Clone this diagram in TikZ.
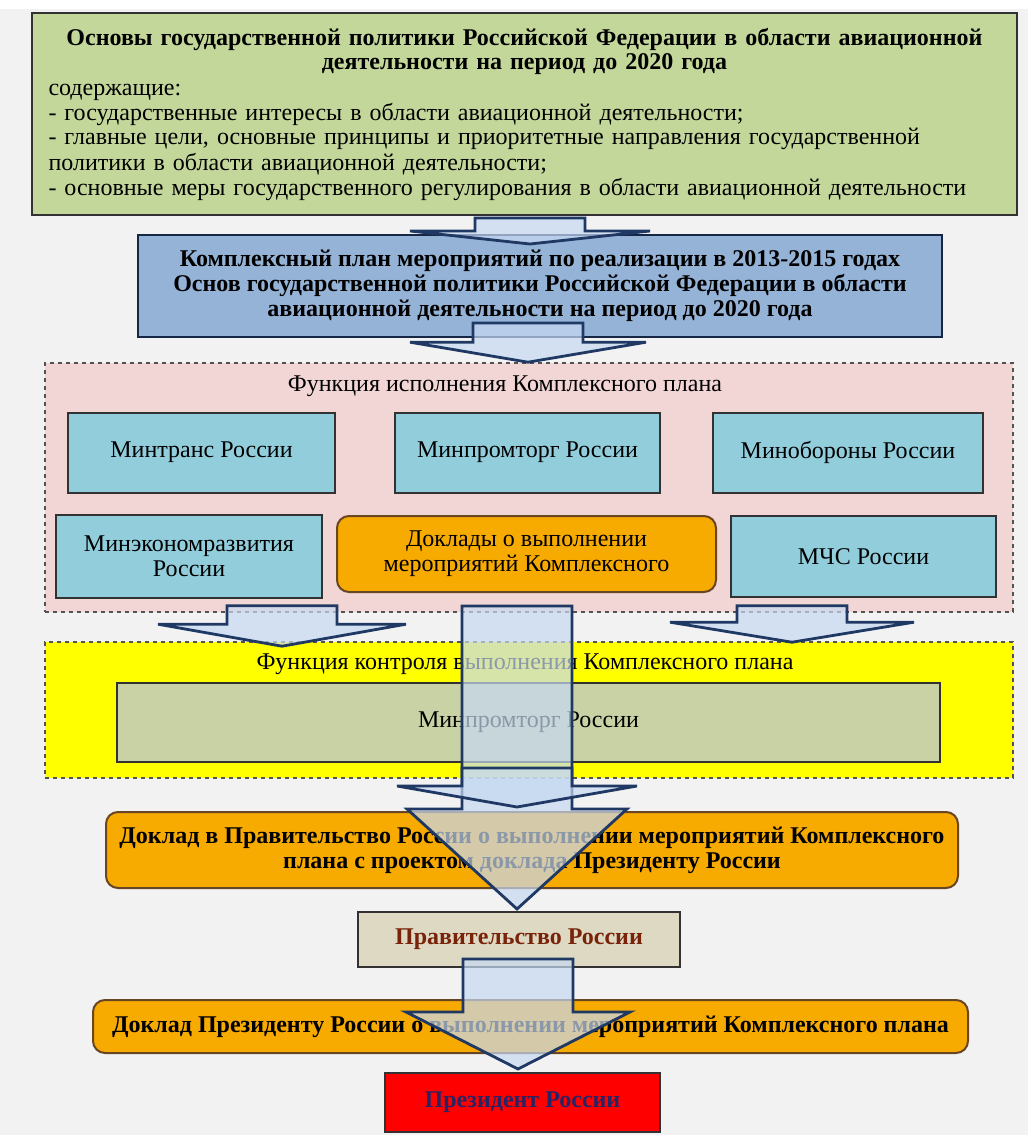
\documentclass[tikz,border=0pt]{standalone}
\usepackage{fontspec}
\setmainfont{Liberation Serif}
\usetikzlibrary{calc}

\definecolor{pagebg}{RGB}{242,242,242}
\definecolor{olivebox}{RGB}{196,215,155}
\definecolor{planblue}{RGB}{149,179,215}
\definecolor{pinkzone}{RGB}{242,214,213}
\definecolor{tealbox}{RGB}{146,205,220}
\definecolor{orangebox}{RGB}{247,170,0}
\definecolor{yellowzone}{RGB}{255,255,0}
\definecolor{graygreen}{RGB}{200,210,165}
\definecolor{tanbox}{RGB}{221,217,195}
\definecolor{redbox}{RGB}{255,0,0}
\definecolor{arrowfill}{RGB}{198,217,241}
\definecolor{arrowline}{RGB}{31,56,100}
\definecolor{boxline}{RGB}{50,50,50}
\definecolor{darkredtext}{RGB}{120,35,10}
\definecolor{navytext}{RGB}{40,35,100}

% block arrow: start point (only its y), tip, shaft half width, wing half width, head length
\newcommand{\blockarrow}[5]{%
  \path[bigarrow] let \p1=(#1), \p2=(#2) in
    ({\x2-#3*0.5pt},\y1) -- ({\x2+#3*0.5pt},\y1) -- ({\x2+#3*0.5pt},{\y2+#5*0.5pt})
    -- ({\x2+#4*0.5pt},{\y2+#5*0.5pt}) -- (\x2,\y2) -- ({\x2-#4*0.5pt},{\y2+#5*0.5pt})
    -- ({\x2-#3*0.5pt},{\y2+#5*0.5pt}) -- cycle;}

\begin{document}
\begin{tikzpicture}[x=0.5pt,y=-0.5pt,
    plainbox/.style={draw=boxline, line width=1pt, align=center, inner sep=3pt,
      font=\fontsize{12}{12.5}\selectfont},
    zone/.style={draw=gray!65!black, line width=0.8pt, dash pattern=on 2pt off 2pt},
    ministry/.style={plainbox, fill=tealbox, minimum height=40pt},
    report/.style={plainbox, fill=orangebox, draw=brown!55!black, rounded corners=6pt},
    bigarrow/.style={draw=arrowline, line width=1.4pt, fill=arrowfill, fill opacity=0.7, line join=miter}]

  % Background
  \useasboundingbox (0,0) rectangle (1028,1135);
  \fill[pagebg] (0,0) rectangle (1028,1135);
  \fill[white] (0,0) rectangle (1028,9);

  % Basics of state policy
  \node[plainbox, fill=olivebox, minimum width=492.5pt, minimum height=101pt,
        text width=476pt, align=left] (osnovy) at (524.5,114)
    {{\centering\bfseries Основы государственной политики Российской Федерации в области авиационной\\
      деятельности на период до 2020 года\par}
     содержащие:\\
     - государственные интересы в области авиационной деятельности;\\
     - главные цели, основные принципы и приоритетные направления государственной\\
     политики в области авиационной деятельности;\\
     - основные меры государственного регулирования в области авиационной деятельности};

  % Complex plan
  \node[plainbox, fill=planblue, draw=arrowline!70!black, minimum width=402pt, minimum height=51pt,
        font=\fontsize{12}{12.5}\selectfont\bfseries] (plan) at (540,286)
    {Комплексный план мероприятий по реализации в 2013-2015 годах\\
     Основ государственной политики Российской Федерации в области\\
     авиационной деятельности на период до 2020 года};

  % Execution zone
  \node[zone, fill=pinkzone, minimum width=484pt, minimum height=124.5pt] (ispoln) at (529,487.5) {};
  \node[font=\fontsize{12}{12.5}\selectfont] (ispolntitle) at (505,386) {Функция исполнения Комплексного плана};

  \node[ministry, minimum width=133.5pt] (mintrans) at (201.5,452.5) {Минтранс России};
  \node[ministry, minimum width=132.5pt] (minprom) at (527.5,452.5) {Минпромторг России};
  \node[ministry, minimum width=135pt] (minoborony) at (848,452.5) {Минобороны России};
  \node[ministry, minimum width=133pt, minimum height=41.5pt] (minekonom) at (189,556.5) {Минэкономразвития\\ России};
  \node[report, minimum width=189.5pt, minimum height=38pt] (doklady) at (526.5,554)
    {Доклады о выполнении\\ мероприятий Комплексного};
  \node[ministry, minimum width=132.5pt, minimum height=40.5pt] (mchs) at (863.5,556.5) {МЧС России};

  % Control zone
  \node[zone, fill=yellowzone, minimum width=484pt, minimum height=68pt] (kontrol) at (529,710) {};
  \node[font=\fontsize{12}{12.5}\selectfont] (kontroltitle) at (525,664) {Функция контроля выполнения Комплексного плана};
  \node[plainbox, fill=graygreen, minimum width=411.5pt, minimum height=39.5pt] (minprom2) at (528.5,722.5)
    {Минпромторг России};

  % Reports and addressees
  \node[report, minimum width=426pt, minimum height=38pt, font=\fontsize{12}{12.5}\selectfont\bfseries] (doklad1) at (532,850)
    {Доклад в Правительство России о выполнении мероприятий Комплексного\\
     плана с проектом доклада Президенту России};
  \node[plainbox, fill=tanbox, minimum width=161pt, minimum height=27.5pt,
        text=darkredtext, font=\fontsize{12}{12.5}\selectfont\bfseries] (pravit) at (519,939.5) {Правительство России};
  \node[report, minimum width=437.5pt, minimum height=26.5pt, font=\fontsize{12}{12.5}\selectfont\bfseries] (doklad2) at (530.5,1026.5)
    {Доклад Президенту России о выполнении мероприятий Комплексного плана};
  \node[plainbox, fill=redbox, minimum width=137.5pt, minimum height=29.5pt,
        text=navytext, font=\fontsize{12}{12.5}\selectfont\bfseries] (president) at (522.5,1102.5) {Президент России};

  % Block arrows
  \blockarrow{$(osnovy.south)+(0,2)$}{$(plan.north)+(-10,10)$}{55}{120}{13}
  \blockarrow{$(plan.south)+(0,-15)$}{$(ispoln.north)+(-1,0)$}{55}{118}{20}
  \blockarrow{$(ispoln.south)+(0,-7)$}{$(kontrol.north)+(-247,5)$}{55}{124}{22}
  \blockarrow{$(ispoln.south)+(0,-7)$}{$(kontrol.north)+(263,1)$}{55}{122}{20}
  \blockarrow{$(doklady.south)+(0,13)$}{$(pravit.north)+(-2,-2)$}{55}{110}{100}
  \blockarrow{$(minprom2.south)+(0,5)$}{$(doklad1.north)+(-15,-4)$}{55}{120}{21}
  \blockarrow{$(pravit.south)+(0,-9)$}{$(president.north)+(-4.5,-3)$}{55}{112}{57}

\end{tikzpicture}
\end{document}
